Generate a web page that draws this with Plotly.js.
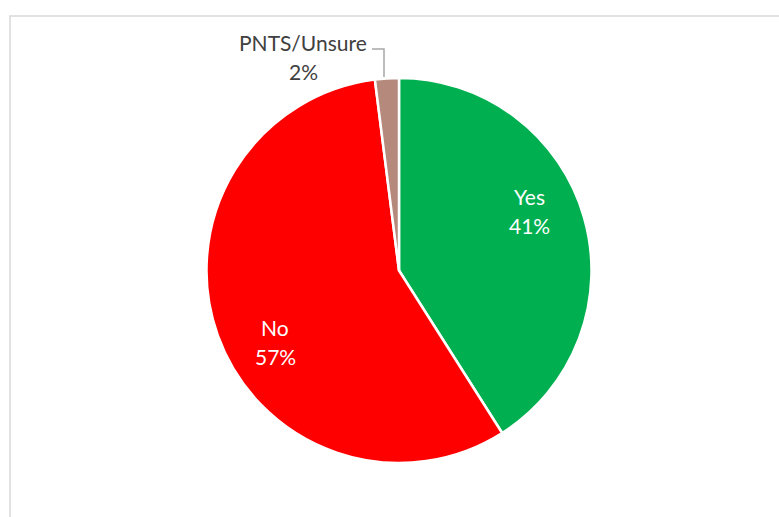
<!DOCTYPE html>
<html>
<head>
<meta charset="utf-8">
<script src="https://cdn.plot.ly/plotly-3.0.1.min.js"></script>
<style>
html,body{margin:0;padding:0;background:#fff;}
#chart{width:779px;height:517px;}
</style>
</head>
<body>
<div id="chart"></div>
<script>
const categories = ["Yes", "No", "PNTS/Unsure"];
const values = [41, 57, 2];
const sliceColors = ["#00B050", "#FF0000", "#B5897C"];

const W = 779, H = 517;
const cx = 399, cy = 270.5, R = 192.5;

const trace = {
  type: "pie",
  labels: categories,
  values: values,
  sort: false,
  direction: "clockwise",
  rotation: 0,
  marker: {colors: sliceColors, line: {color: "#ffffff", width: 2.5}},
  textinfo: "none",
  hoverinfo: "label+percent",
  showlegend: false,
  domain: {
    x: [(cx - R) / W, (cx + R) / W],
    y: [(H - cy - R) / H, (H - cy + R) / H]
  }
};

// label positions (pixels) for each slice
const labelPos = [[529, 210.5], [275, 341.7], [303, 56.5]];
const labelColors = ["#ffffff", "#ffffff", "#404040"];
const total = values.reduce((a, b) => a + b, 0);
const lineGap = 14.5;

const annotations = [];
categories.forEach((c, i) => {
  const lines = [c, Math.round(values[i] / total * 100) + "%"];
  lines.forEach((t, k) => {
    annotations.push({
      text: t,
      x: labelPos[i][0] / W,
      y: 1 - (labelPos[i][1] + (k === 0 ? -lineGap : lineGap)) / H,
      xref: "paper", yref: "paper",
      xanchor: "center", yanchor: "middle",
      showarrow: false,
      font: {family: "Lato, 'Open Sans', sans-serif", size: 21, color: labelColors[i]}
    });
  });
});

const px = (x) => x / W, py = (y) => 1 - y / H;

const shapes = [
  {type: "rect", xref: "paper", yref: "paper",
   x0: px(10), x1: px(800), y0: py(16), y1: py(540),
   line: {color: "#d9d9d9", width: 1.5}, fillcolor: "rgba(0,0,0,0)"},
  {type: "path", xref: "paper", yref: "paper",
   path: "M " + px(372) + " " + py(49) + " L " + px(384) + " " + py(49) + " L " + px(384) + " " + py(77),
   line: {color: "#a6a6a6", width: 1.5}}
];

const layout = {
  width: W, height: H,
  margin: {l: 0, r: 0, t: 0, b: 0},
  paper_bgcolor: "#ffffff",
  plot_bgcolor: "#ffffff",
  showlegend: false,
  annotations: annotations,
  shapes: shapes
};

Plotly.newPlot("chart", [trace], layout, {displayModeBar: false, staticPlot: true});
</script>
</body>
</html>
